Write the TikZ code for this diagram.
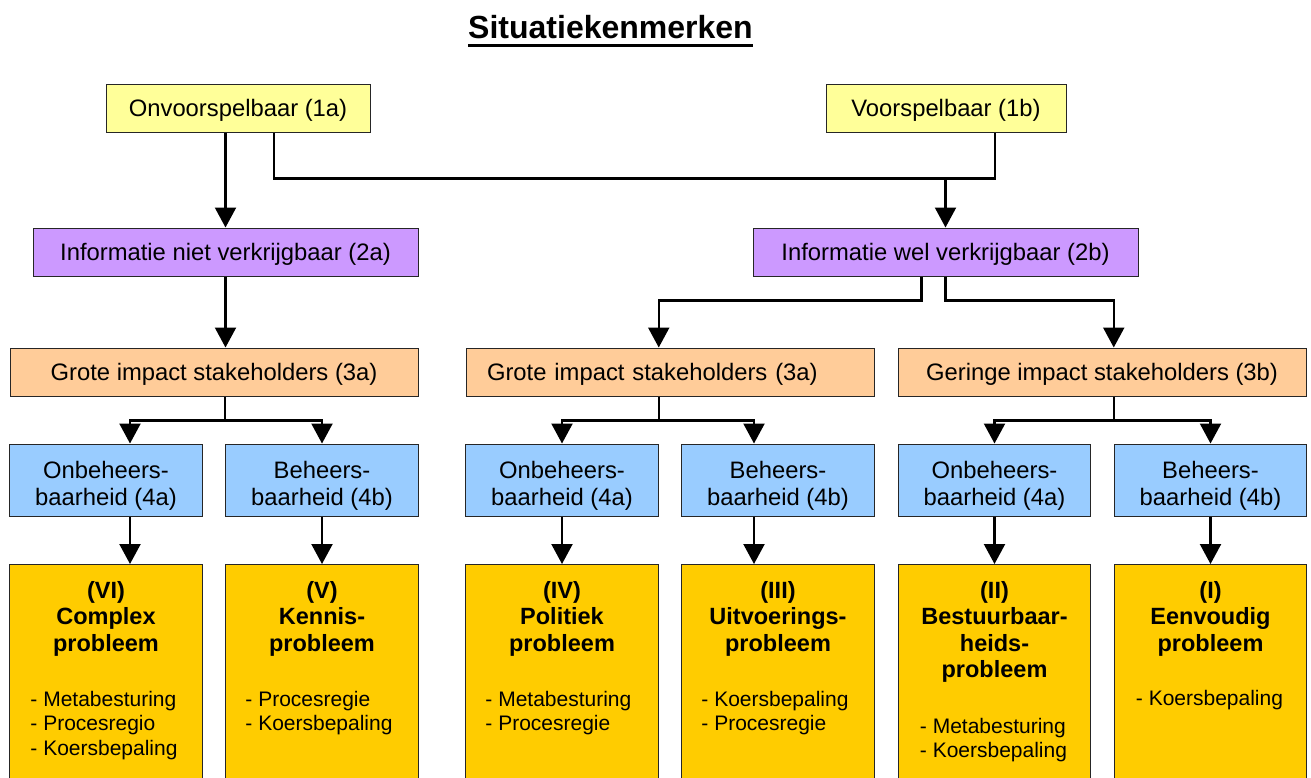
\documentclass[tikz,border=0pt]{standalone}
\usepackage{fontspec}
\setmainfont{Liberation Sans}
\usetikzlibrary{arrows.meta}
\definecolor{cyellow}{HTML}{FFFF99}
\definecolor{cpurple}{HTML}{CC99FF}
\definecolor{cpeach}{HTML}{FFCC99}
\definecolor{cblue}{HTML}{99CCFF}
\definecolor{cgold}{HTML}{FFCC00}
\begin{document}
\begin{tikzpicture}[x=1pt,y=-1pt,
  box/.style={draw=black!85, line width=1pt, inner sep=0pt},
  linebox/.style={box, minimum height=48pt, text height=17pt, text depth=0pt,
    font=\fontsize{23.8}{27}\selectfont},
  levelone/.style={linebox, fill=cyellow},
  leveltwo/.style={linebox, fill=cpurple, minimum width=385pt},
  levelthree/.style={linebox, fill=cpeach, minimum width=408pt},
  levelfour/.style={box, fill=cblue, minimum width=192.5pt, minimum height=72pt},
  levelfive/.style={box, fill=cgold, minimum width=192.5pt, minimum height=240pt, anchor=north},
  fourtext/.style={inner sep=0pt, anchor=north, align=center, font=\fontsize{23.8}{27}\selectfont},
  probtitle/.style={inner sep=0pt, anchor=north, align=center, font=\fontsize{23.5}{26.5}\selectfont\bfseries},
  probitems/.style={inner sep=0pt, anchor=north west, align=left, font=\fontsize{21}{24.5}\selectfont},
  conn/.style={line width=2.2pt, black},
  arr/.style={conn, -{Triangle[length=20pt,width=21pt]}},
]
\useasboundingbox (0,0) rectangle (1311,777);

% title
\node[inner sep=0pt, anchor=base, font=\fontsize{32}{38}\selectfont\bfseries] (title) at (610.5,38) {Situatiekenmerken};
\draw[line width=3.5pt] ([yshift=-7.5pt]title.base west) -- ([yshift=-7.5pt]title.base east);

% level 1: predictability
\node[levelone, minimum width=264pt] (n1a) at (238,108) {Onvoorspelbaar (1a)};
\node[levelone, minimum width=240pt] (n1b) at (946,108) {Voorspelbaar (1b)};

% level 2: information
\node[leveltwo] (n2a) at (225.5,252) {Informatie niet verkrijgbaar (2a)};
\node[leveltwo] (n2b) at (945.5,252) {Informatie wel verkrijgbaar (2b)};

% level 3: stakeholders
\node[levelthree] (l3) at (214,372) {Grote impact stakeholders (3a)};
\node[levelthree, text width=366pt, inner xsep=21pt, align=left] (m3) at (670,372) {Grote impact stakeholders (3a)};
\node[levelthree] (r3) at (1102,372) {Geringe impact stakeholders (3b)};

% level 4: manageability
\node[levelfour] (l4a) at (106,480) {};
\node[levelfour] (l4b) at (322,480) {};
\node[levelfour] (m4a) at (562,480) {};
\node[levelfour] (m4b) at (778,480) {};
\node[levelfour] (r4a) at (994.5,480) {};
\node[levelfour] (r4b) at (1210.5,480) {};
\node[fourtext] (l4at) at ([yshift=-17.2pt]l4a.north) {Onbeheers-\\baarheid (4a)};
\node[fourtext] (l4bt) at ([yshift=-17.2pt]l4b.north) {Beheers-\\baarheid (4b)};
\node[fourtext] (m4at) at ([yshift=-17.2pt]m4a.north) {Onbeheers-\\baarheid (4a)};
\node[fourtext] (m4bt) at ([yshift=-17.2pt]m4b.north) {Beheers-\\baarheid (4b)};
\node[fourtext] (r4at) at ([yshift=-17.2pt]r4a.north) {Onbeheers-\\baarheid (4a)};
\node[fourtext] (r4bt) at ([yshift=-17.2pt]r4b.north) {Beheers-\\baarheid (4b)};

% level 5: problem types
\node[levelfive] (p6) at (106,564) {};
\node[levelfive] (p5) at (322,564) {};
\node[levelfive] (p4) at (562,564) {};
\node[levelfive] (p3) at (778,564) {};
\node[levelfive] (p2) at (994.5,564) {};
\node[levelfive] (p1) at (1210.5,564) {};

\node[probtitle] (p6t) at ([yshift=-17pt]p6.north) {(VI)\\Complex\\probleem};
\node[probtitle] (p5t) at ([yshift=-17pt]p5.north) {(V)\\Kennis-\\probleem};
\node[probtitle] (p4t) at ([yshift=-17pt]p4.north) {(IV)\\Politiek\\probleem};
\node[probtitle] (p3t) at ([yshift=-17pt]p3.north) {(III)\\Uitvoerings-\\probleem};
\node[probtitle] (p2t) at ([yshift=-17pt]p2.north) {(II)\\Bestuurbaar-\\heids-\\probleem};
\node[probtitle] (p1t) at ([yshift=-17pt]p1.north) {(I)\\Eenvoudig\\probleem};

\node[probitems] (p6i) at ([xshift=21pt,yshift=-126.7pt]p6.north west) {- Metabesturing\\- Procesregio\\- Koersbepaling};
\node[probitems] (p5i) at ([xshift=20pt,yshift=-126.7pt]p5.north west) {- Procesregie\\- Koersbepaling};
\node[probitems] (p4i) at ([xshift=20pt,yshift=-126.7pt]p4.north west) {- Metabesturing\\- Procesregie};
\node[probitems] (p3i) at ([xshift=20pt,yshift=-126.7pt]p3.north west) {- Koersbepaling\\- Procesregie};
\node[probitems] (p2i) at ([xshift=22pt,yshift=-153.7pt]p2.north west) {- Metabesturing\\- Koersbepaling};
\node[probitems] (p1i) at ([xshift=22pt,yshift=-126pt]p1.north west) {- Koersbepaling};

% connectors level 1 -> 2
\draw[arr] (n1a.south -| n2a.north) -- (n2a.north);
\coordinate (j1) at ([yshift=49pt]n2b.north);
\draw[conn] ([xshift=36pt]n1a.south) |- (j1) -| ([xshift=49pt]n1b.south);
\draw[arr] (j1) -- (n2b.north);

% connectors level 2 -> 3
\draw[arr] (n2a.south) -- (l3.north -| n2a.south);
\draw[arr] ([xshift=-24pt]n2b.south) -- ++(0,24) -| (m3.north -| m4a.east);
\draw[arr] (n2b.south) -- ++(0,24) -| (r3.north -| r4b.west);

% connectors level 3 -> 4
\draw[conn] (l3.south -| l4b.west) -- ++(0,24) coordinate (lj);
\draw[arr] (lj) -| ([xshift=24pt]l4a.north);
\draw[arr] (lj) -| (l4b.north);
\draw[conn] (m3.south -| m4a.east) -- ++(0,24) coordinate (mj);
\draw[arr] (mj) -| (m4a.north);
\draw[arr] (mj) -| ([xshift=-24pt]m4b.north);
\draw[conn] (r3.south -| r4b.west) -- ++(0,24) coordinate (rj);
\draw[arr] (rj) -| (r4a.north);
\draw[arr] (rj) -| (r4b.north);

% connectors level 4 -> 5
\draw[arr] ([xshift=24pt]l4a.south) -- ([xshift=24pt]p6.north);
\draw[arr] (l4b.south) -- (p5.north);
\draw[arr] (m4a.south) -- (p4.north);
\draw[arr] ([xshift=-24pt]m4b.south) -- ([xshift=-24pt]p3.north);
\draw[arr] (r4a.south) -- (p2.north);
\draw[arr] (r4b.south) -- (p1.north);
\end{tikzpicture}
\end{document}
